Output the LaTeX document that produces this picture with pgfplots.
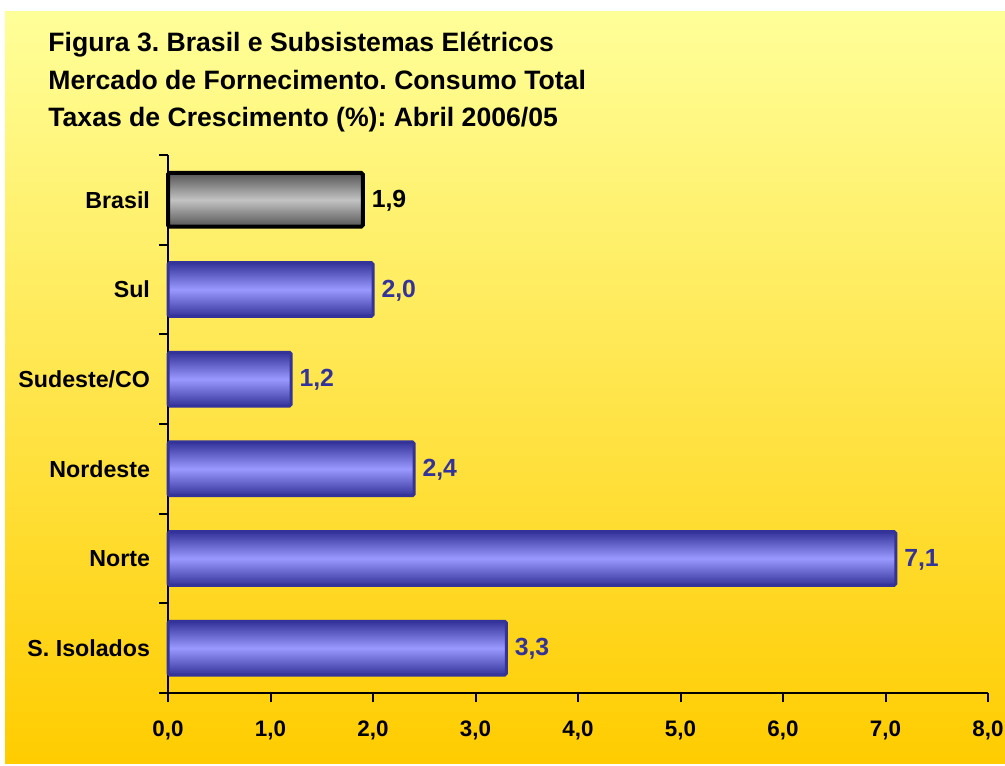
\documentclass[border=0pt]{standalone}
\usepackage{pgfplots}
\pgfplotsset{compat=1.18}
\usepackage{fontspec}
\setmainfont{Liberation Sans}
\frenchspacing
\definecolor{bgtop}{RGB}{255,255,153}
\definecolor{bgbot}{RGB}{255,204,0}
\definecolor{bdark}{RGB}{51,51,153}
\definecolor{blight}{RGB}{153,153,255}
\definecolor{gdark}{RGB}{85,85,85}
\definecolor{glight}{RGB}{195,195,195}
\pgfplotsset{
  bluebar/.style={draw=bdark, line width=1.5pt, rounded corners=0.8pt, top color=bdark, bottom color=bdark, middle color=blight,
    every node near coord/.append style={text=bdark}},
}
\begin{document}
\begin{tikzpicture}
\fill[white] (0,0) rectangle (502.5pt,382.5pt);
\shade[top color=bgtop, bottom color=bgbot] (2.5pt,1pt) rectangle (502.5pt,376.5pt);
\node[anchor=base west, inner sep=0, font=\fontsize{13.3}{15}\bfseries\selectfont] at (24pt,356.5pt) {Figura 3. Brasil e Subsistemas Elétricos};
\node[anchor=base west, inner sep=0, font=\fontsize{13.3}{15}\bfseries\selectfont] at (24pt,337.5pt) {Mercado de Fornecimento. Consumo Total};
\node[anchor=base west, inner sep=0, font=\fontsize{13.3}{15}\bfseries\selectfont] at (24pt,319pt) {Taxas de Crescimento (\%): Abril 2006/05};
\begin{axis}[
  at={(84pt,36pt)}, anchor=south west, scale only axis,
  width=410pt, height=269pt,
  xmin=0, xmax=8, ymin=-0.5, ymax=5.5,
  xbar, bar width=0.6, bar shift=0pt,
  axis x line*=bottom, axis y line*=left,
  axis line style={line width=1pt, -},
  tick align=outside, major tick length=4.5pt,
  tick style={line width=1pt, black},
  xtick={0,...,8},
  ytick={-0.5,0.5,...,5.5}, yticklabels={},
  extra y ticks={0,1,2,3,4,5},
  extra y tick labels={S. Isolados, Norte, Nordeste, Sudeste/CO\hspace{3pt}, Sul\hspace{2.5pt}, Brasil},
  extra y tick style={major tick length=0pt, yticklabel style={font=\fontsize{11.6}{13}\bfseries\selectfont, xshift=-5.5pt}},
  xticklabel style={/pgf/number format/fixed, /pgf/number format/fixed zerofill, /pgf/number format/precision=1, /pgf/number format/use comma, /pgf/number format/assume math mode=true, font=\fontsize{11.2}{13}\bfseries\selectfont, yshift=-6pt},
  point meta=x,
  nodes near coords={\pgfmathprintnumber[fixed,fixed zerofill,precision=1,use comma,assume math mode=true]{\pgfplotspointmeta}},
  every node near coord/.append style={font=\fontsize{12.4}{14}\bfseries\selectfont, inner sep=3.5pt, yshift=-0.5pt},
  clip=false,
]
\addplot[draw=black, line width=2pt, rounded corners=0.8pt, top color=gdark, bottom color=gdark, middle color=glight,
  every node near coord/.append style={text=black}] coordinates {(1.9,5)};
\addplot[bluebar] coordinates {(2.0,4)};
\addplot[bluebar] coordinates {(1.2,3)};
\addplot[bluebar] coordinates {(2.4,2)};
\addplot[bluebar] coordinates {(7.1,1)};
\addplot[bluebar] coordinates {(3.3,0)};
\end{axis}
\pgfresetboundingbox
\useasboundingbox (0,0) rectangle (502.5pt,382.5pt);
\end{tikzpicture}
\end{document}
